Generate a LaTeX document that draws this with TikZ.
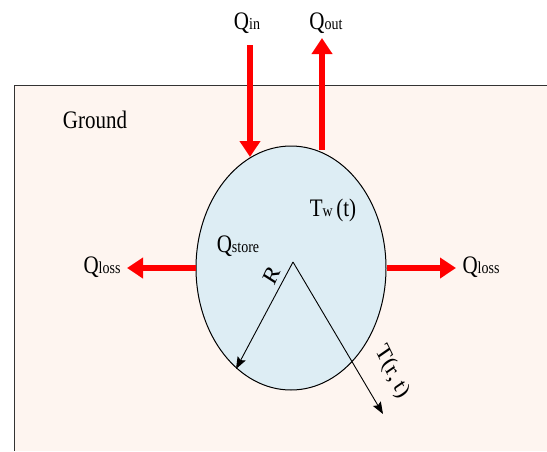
\documentclass[tikz,border=0pt]{standalone}
\usepackage{fontspec}
\setmainfont{Liberation Serif}
\usetikzlibrary{arrows.meta,shapes.geometric}
\definecolor{groundfill}{HTML}{FEF5F0}
\definecolor{wellfill}{HTML}{DDEDF4}
\definecolor{flowred}{HTML}{FF0000}
\tikzset{
  lbl/.style={inner sep=0pt, anchor=base, yscale=1.2, font=\fontsize{21}{21}\selectfont},
  flow/.style={draw=flowred, line width=6pt, -{Triangle[length=16pt,width=20pt]}},
  radius/.style={draw=black, line width=0.9pt, -{Stealth[length=12pt,width=9pt,inset=2pt]}},
}
\newcommand{\sbs}[1]{{\fontsize{14}{14}\selectfont #1}}
\begin{document}
\begin{tikzpicture}[x=1pt,y=-1pt]
\useasboundingbox (0,0) rectangle (547,451);
% ground
\fill[groundfill] (14,85) rectangle (547,451);
\draw[line width=1pt, draw=black!80] (547,85) -- (14,85) -- (14,451);
\node[lbl] (ground) at (95,128) {Ground};
% well
\node[ellipse, draw=black, line width=1pt, fill=wellfill, minimum width=190pt, minimum height=244pt, inner sep=0pt] (well) at (291,268) {};
% coordinates
\coordinate (inTop) at (250,45);
\coordinate (inTip) at (250,157);
\coordinate (outBase) at (322,150);
\coordinate (outTip) at (322,38);
\coordinate (lTip) at (127,268);
\coordinate (rTip) at (456,268);
\coordinate (ctr) at (293,262);
\coordinate (rEnd) at (236,369);
\coordinate (tEnd) at (383,414);
% red flows
\draw[flow] (inTop) -- (inTip);
\draw[flow] (outBase) -- (outTip);
\draw[flow] (well.west) -- (lTip);
\draw[flow] (well.east) -- (rTip);
% radii
\draw[radius] (ctr) -- (rEnd);
\draw[radius] (ctr) -- (tEnd);
% labels
\node[lbl] (qin) at (247,29) {Q\sbs{in}};
\node[lbl] (qout) at (326,29) {Q\sbs{out}};
\node[lbl] (qlossl) at (102,273) {Q\sbs{loss}};
\node[lbl] (qlossr) at (481,273) {Q\sbs{loss}};
\node[lbl] (qstore) at (238,252) {Q\sbs{store}};
\node[lbl] (tw) at (333,216) {T\sbs{w}\,(t)};
\node[lbl, anchor=center, rotate=62] (rl) at (272,275) {R};
\node[lbl, anchor=center, rotate=-60] (trt) at (392,372) {T(r,\,t)};
\end{tikzpicture}
\end{document}
